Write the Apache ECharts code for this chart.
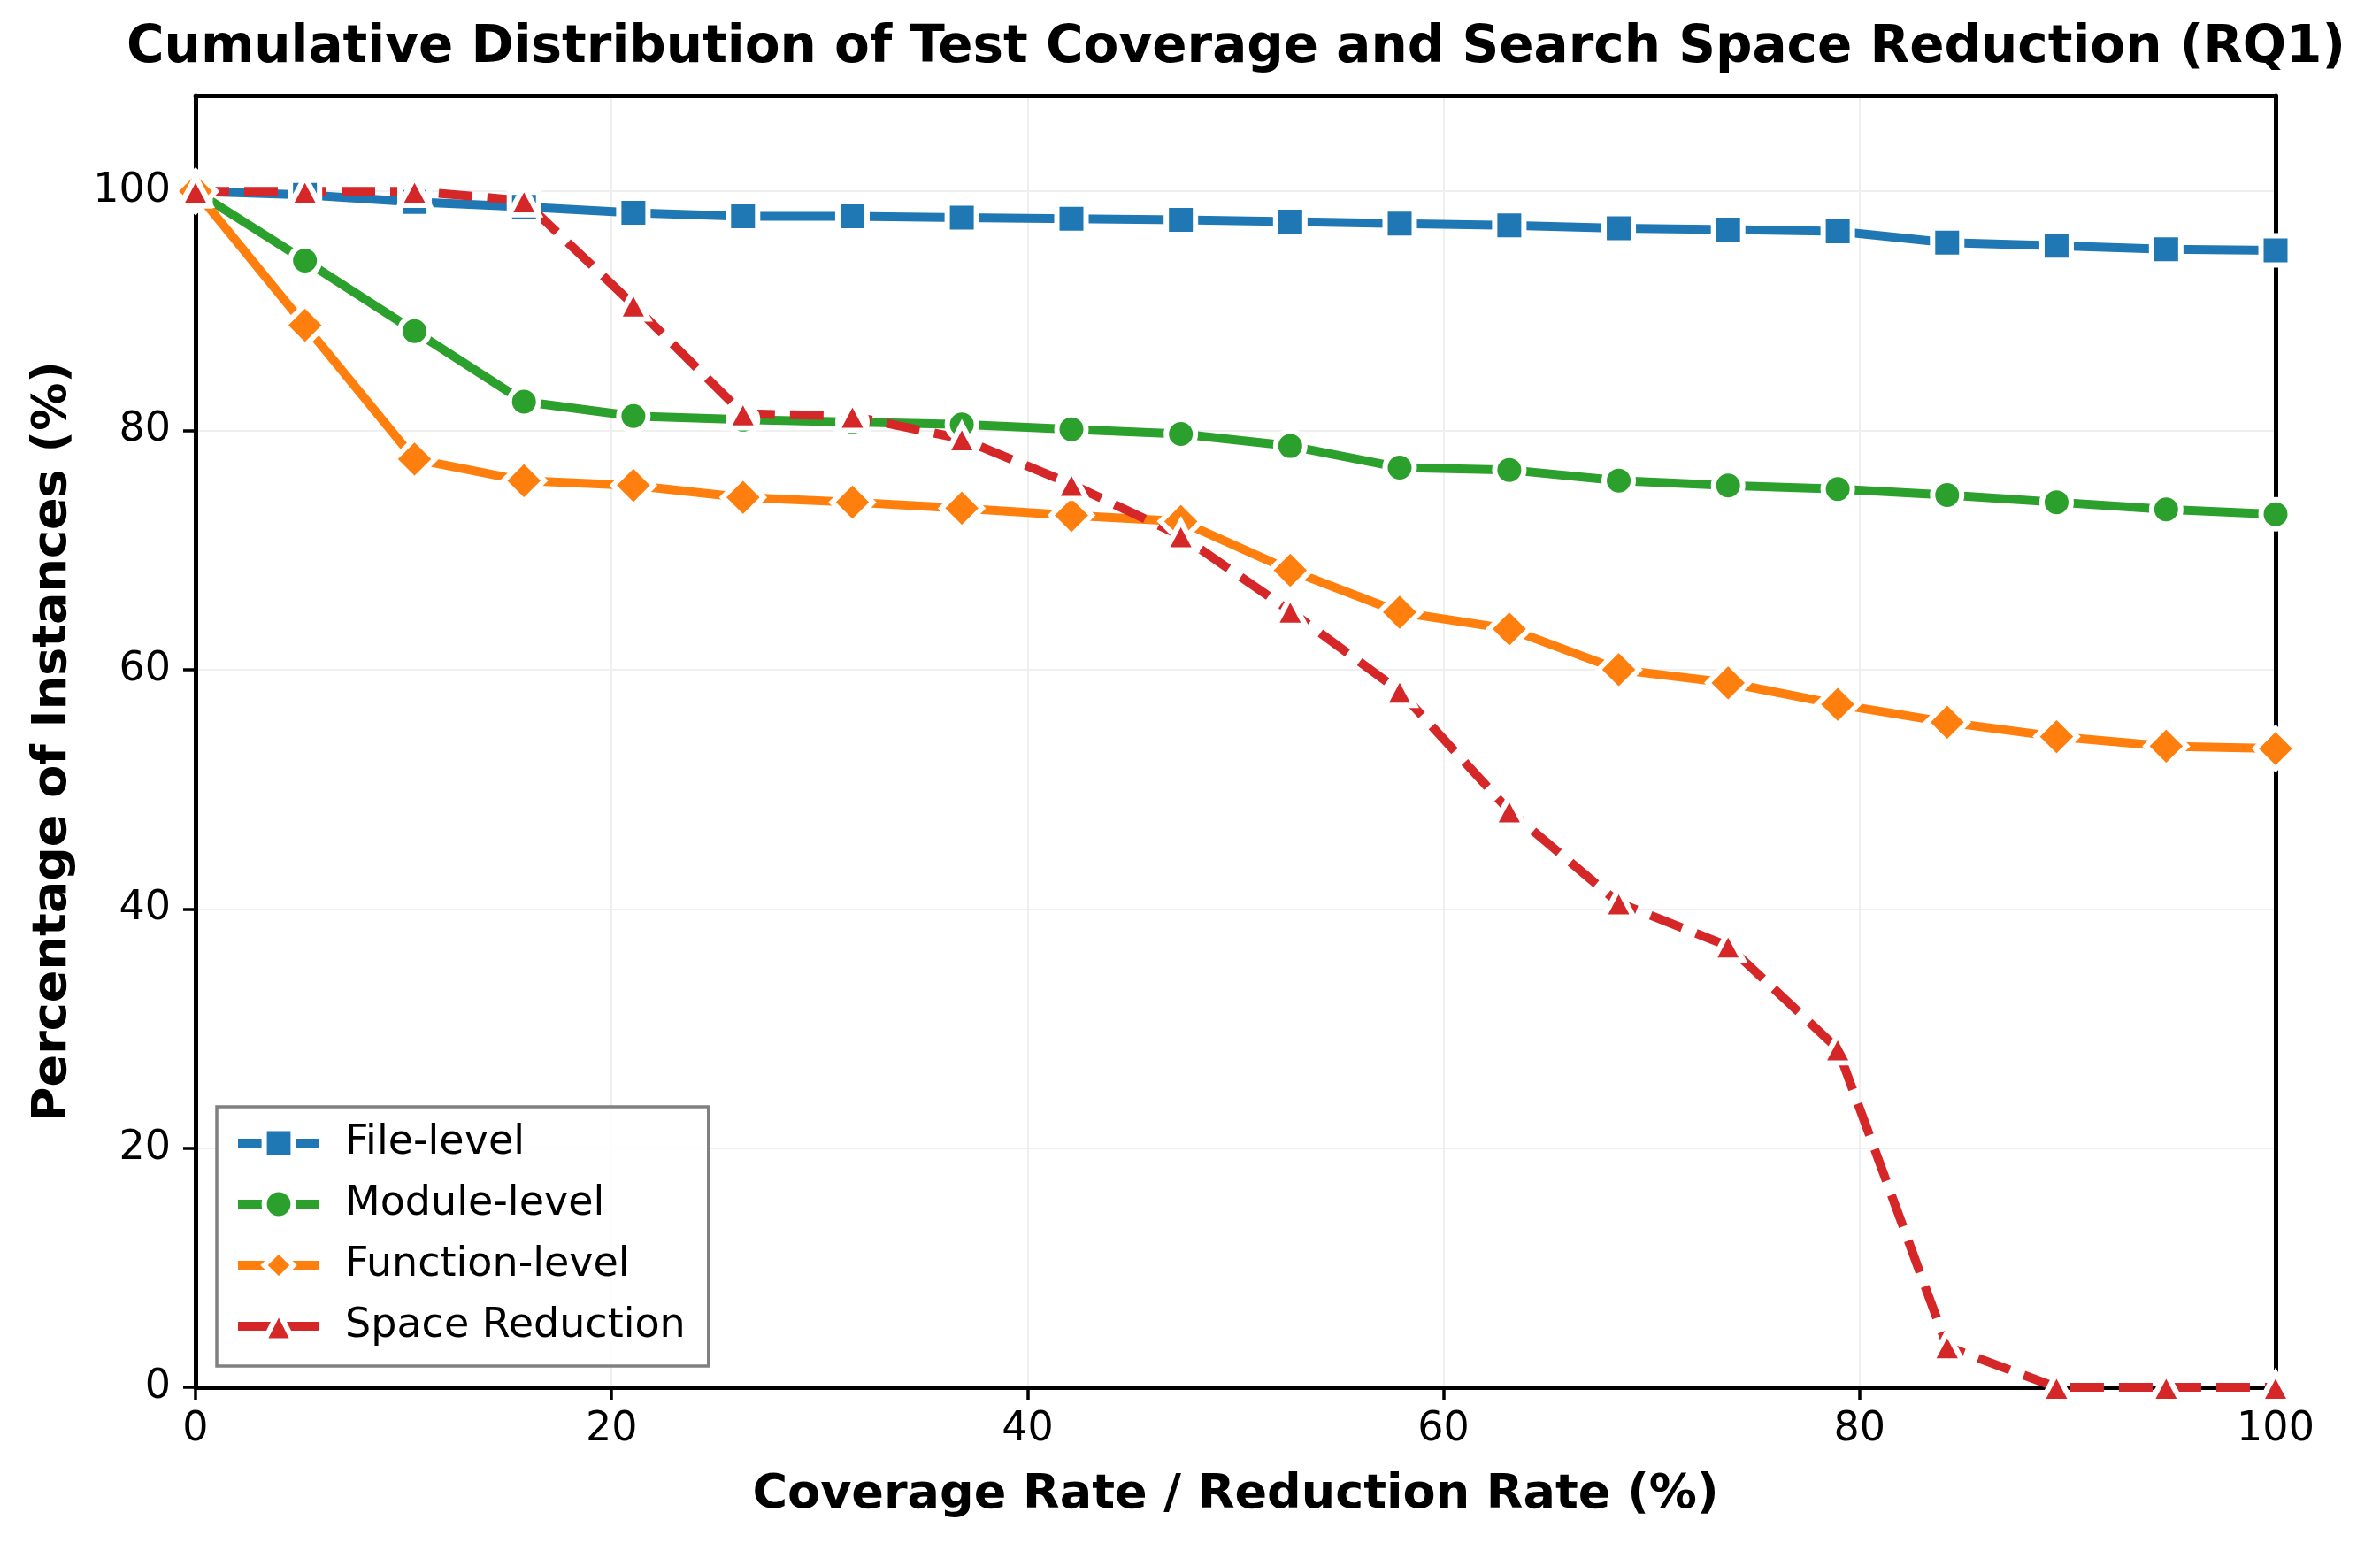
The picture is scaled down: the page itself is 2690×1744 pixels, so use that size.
<!DOCTYPE html>
<html>
<head>
<meta charset="utf-8">
<script src="https://cdn.jsdelivr.net/npm/echarts@6/dist/echarts.min.js"></script>
<style>
  html, body { margin: 0; padding: 0; background: #fff; }
  #chart { width: 2690px; height: 1744px; }
</style>
</head>
<body>
<div id="chart"></div>
<script>
// x positions (rate %) and the four curves
var rates = [0, 5.26, 10.53, 15.79, 21.05, 26.32, 31.58, 36.84, 42.11, 47.37,
             52.63, 57.89, 63.16, 68.42, 73.68, 78.95, 84.21, 89.47, 94.74, 100];
var fileLevel = [100, 99.7, 99.1, 98.7, 98.2, 97.9, 97.9, 97.8, 97.7, 97.6,
                 97.45, 97.3, 97.15, 96.9, 96.8, 96.65, 95.7, 95.45, 95.15, 95.05];
var moduleLevel = [100, 94.2, 88.3, 82.4, 81.2, 80.9, 80.7, 80.5, 80.1, 79.7,
                   78.7, 76.9, 76.7, 75.8, 75.4, 75.1, 74.6, 74.0, 73.4, 73.0];
var functionLevel = [100, 88.8, 77.6, 75.8, 75.4, 74.4, 74.0, 73.5, 72.9, 72.4,
                     68.3, 64.8, 63.4, 60.0, 58.9, 57.1, 55.6, 54.4, 53.6, 53.4];
var spaceReduction = [100, 100, 100, 99.2, 90.5, 81.4, 81.2, 79.3, 75.5, 71.2,
                      64.9, 58.2, 48.2, 40.5, 36.9, 28.3, 3.4, 0, 0, 0];
var yTicks = [0, 20, 40, 60, 80, 100];

var FONT = 'DejaVu Sans';

function pairs(ys) {
  return rates.map(function (x, i) { return [x, ys[i]]; });
}

function mkSeries(name, ys, color, symbol, size, dashed) {
  return {
    name: name,
    type: 'line',
    data: pairs(ys),
    symbol: symbol,
    symbolSize: size,
    showSymbol: true,
    clip: true,
    lineStyle: { color: color, width: 10, type: dashed ? [38, 17] : 'solid' },
    itemStyle: { color: color, borderColor: '#ffffff', borderWidth: 6 },
    emphasis: { disabled: true }
  };
}

// plain black frame lines for the top and right spines
function spine(pos) {
  return {
    show: true, position: pos, silent: true,
    axisLine: { show: true, onZero: false, lineStyle: { color: '#000', width: 5 } },
    axisTick: { show: false }, axisLabel: { show: false }, splitLine: { show: false }
  };
}

var chart = echarts.init(document.getElementById('chart'));

var topSpine = Object.assign({ type: 'value', min: 0, max: 100 }, spine('top'));
var rightSpine = Object.assign({ type: 'value', min: 0, max: 108 }, spine('right'));

var option = {
  animation: false,
  backgroundColor: '#ffffff',
  textStyle: { fontFamily: FONT },
  graphic: [{
    type: 'text',
    x: 1397,
    y: 55,
    style: {
      text: 'Cumulative Distribution of Test Coverage and Search Space Reduction (RQ1)',
      font: 'bold 58px "DejaVu Sans"',
      fill: '#000',
      align: 'center',
      verticalAlign: 'middle'
    }
  }],
  grid: {
    left: 221, right: 118, top: 108, bottom: 176,
    show: false,
    containLabel: false
  },
  legend: {
    orient: 'vertical',
    left: 245,
    top: 1251,
    itemWidth: 92,
    itemHeight: 41,
    itemGap: 23,
    padding: [18, 26, 22, 19],
    borderColor: '#808080',
    borderWidth: 3.5,
    borderRadius: 0,
    backgroundColor: 'rgba(255,255,255,0.85)',
    lineStyle: { width: 10 },
    itemStyle: { borderColor: '#ffffff', borderWidth: 6 },
    textStyle: { fontFamily: FONT, fontSize: 46, color: '#000', lineHeight: 46, padding: [0, 0, 0, 24] },
    data: ['File-level', 'Module-level', 'Function-level', 'Space Reduction']
  },
  xAxis: [{
    type: 'value',
    min: 0, max: 100, interval: 20,
    name: 'Coverage Rate / Reduction Rate (%)',
    nameLocation: 'middle',
    nameGap: 95,
    nameTextStyle: { fontFamily: FONT, fontSize: 54, fontWeight: 'bold', color: '#000' },
    axisLine: { show: true, onZero: false, lineStyle: { color: '#000', width: 5 } },
    axisTick: { show: true, inside: false, length: 14, lineStyle: { color: '#000', width: 3.5 } },
    axisLabel: { fontFamily: FONT, fontSize: 46, color: '#000', margin: 25 },
    splitLine: { show: true, lineStyle: { color: '#efefef', width: 2 } }
  }, topSpine],
  yAxis: [{
    type: 'value',
    min: 0, max: 108, interval: 20,
    name: 'Percentage of Instances (%)',
    nameLocation: 'middle',
    nameGap: 134,
    nameRotate: 90,
    nameTextStyle: { fontFamily: FONT, fontSize: 54, fontWeight: 'bold', color: '#000' },
    axisLine: { show: true, onZero: false, lineStyle: { color: '#000', width: 5 } },
    axisTick: { show: true, inside: false, length: 14, customValues: yTicks, lineStyle: { color: '#000', width: 3.5 } },
    axisLabel: { fontFamily: FONT, fontSize: 46, color: '#000', margin: 28, customValues: yTicks },
    splitLine: { show: true, lineStyle: { color: '#efefef', width: 2 } }
  }, rightSpine],
  series: [
    mkSeries('File-level', fileLevel, '#1f77b4', 'rect', 33, false),
    mkSeries('Module-level', moduleLevel, '#2ca02c', 'circle', 33, false),
    mkSeries('Function-level', functionLevel, '#ff7f0e', 'diamond', 46, false),
    mkSeries('Space Reduction', spaceReduction, '#d62728', 'triangle', [34, 32], true)
  ]
};

chart.setOption(option);
</script>
</body>
</html>
